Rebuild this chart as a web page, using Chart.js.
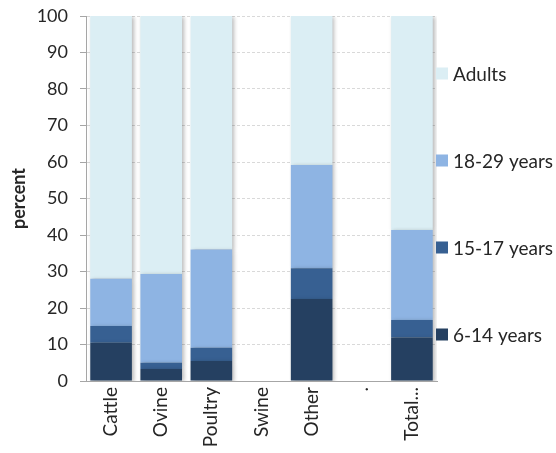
<!DOCTYPE html>
<html>
<head>
<meta charset="utf-8">
<script src="https://cdn.jsdelivr.net/npm/chart.js@4.4.1/dist/chart.umd.min.js"></script>
<style>
  html, body { margin: 0; padding: 0; background: #ffffff; }
  #wrap { width: 556px; height: 453px; position: relative; }
</style>
</head>
<body>
<div id="wrap"><canvas id="c"></canvas></div>
<script>
const categories = ['Cattle', 'Ovine', 'Poultry', 'Swine', 'Other', '.', 'Total...'];
const age6to14  = [10.5, 3.3, 5.5, 0, 22.5, 0, 11.9];
const age15to17 = [4.6, 1.7, 3.6, 0, 8.4, 0, 4.8];
const age18to29 = [12.9, 24.3, 26.9, 0, 28.3, 0, 24.7];
const adults    = [72.0, 70.7, 64.0, 0, 40.8, 0, 58.6];
const seriesLabels = ['6-14 years', '15-17 years', '18-29 years', 'Adults'];
const seriesColors = ['#254061', '#376092', '#8EB4E3', '#DBEEF4'];
const yTicks = [0, 10, 20, 30, 40, 50, 60, 70, 80, 90, 100];

const FONT = 'Lato, "Open Sans", sans-serif';
const TEXT = '#262626';

const barShadow = {
  id: 'barShadow',
  beforeDatasetsDraw(chart) {
    const ctx = chart.ctx;
    ctx.save();
    ctx.shadowColor = 'rgba(0,0,0,0.28)';
    ctx.shadowBlur = 4;
    ctx.shadowOffsetX = 2;
    ctx.shadowOffsetY = 1;
  },
  afterDatasetsDraw(chart) {
    chart.ctx.restore();
  }
};

const sideLegend = {
  id: 'sideLegend',
  afterDraw(chart) {
    const ctx = chart.ctx;
    const area = chart.chartArea;
    const ds = chart.data.datasets.slice().reverse();
    const spacing = 87;
    const mid = (area.top + area.bottom) / 2 + 5.5;
    const startY = mid - spacing * (ds.length - 1) / 2;
    ctx.save();
    ctx.font = '19px ' + FONT;
    ctx.textBaseline = 'middle';
    ctx.textAlign = 'left';
    ds.forEach((d, i) => {
      const cy = startY + i * spacing;
      const x = area.right - 1;
      ctx.fillStyle = d.backgroundColor;
      ctx.fillRect(x, cy - 6, 12, 12);
      ctx.fillStyle = TEXT;
      ctx.fillText(d.label, x + 17, cy + 1);
    });
    ctx.restore();
  }
};

const datasets = [age6to14, age15to17, age18to29, adults].map((vals, i) => ({
  label: seriesLabels[i],
  data: vals,
  backgroundColor: seriesColors[i],
  borderWidth: 0,
  categoryPercentage: 1.0,
  barPercentage: 0.83,
  order: i
}));

new Chart(document.getElementById('c'), {
  type: 'bar',
  data: { labels: categories, datasets },
  options: {
    responsive: true,
    maintainAspectRatio: false,
    animation: false,
    layout: { padding: { top: 16, right: 119, left: 8, bottom: 0 } },
    plugins: {
      legend: { display: false },
      tooltip: { enabled: false }
    },
    scales: {
      x: {
        stacked: true,
        grid: { display: false, drawTicks: false },
        border: { display: true, color: '#a6a6a6', width: 1 },
        ticks: {
          color: TEXT,
          font: { family: FONT, size: 19 },
          minRotation: 90,
          maxRotation: 90,
          padding: 6,
          autoSkip: false
        },
        afterFit(s) { s.height = 72; }
      },
      y: {
        stacked: true,
        min: 0,
        max: 100,
        afterBuildTicks(s) { s.ticks = yTicks.map(v => ({ value: v })); },
        grid: {
          color: '#d9d9d9',
          tickColor: '#a6a6a6',
          tickLength: 6,
          drawTicks: true
        },
        border: { display: true, color: '#a6a6a6', width: 1, dash: [3, 2] },
        ticks: {
          color: TEXT,
          font: { family: FONT, size: 18, lineHeight: 0.6 },
          padding: 12
        },
        title: {
          display: true,
          text: 'percent',
          color: TEXT,
          font: { family: FONT, size: 18, weight: 'bold' },
          padding: { top: 0, bottom: 2 }
        },
        afterFit(s) { s.width = 78; s.paddingTop = 0; s.paddingBottom = 0; }
      }
    }
  },
  plugins: [barShadow, sideLegend]
});
</script>
</body>
</html>
